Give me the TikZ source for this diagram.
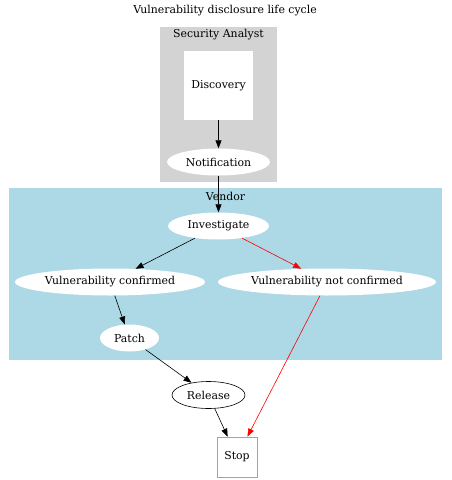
\documentclass[tikz,border=0pt]{standalone}
\usepackage{fontspec}
\setmainfont{DejaVu Serif}
\usetikzlibrary{arrows.meta,shapes.geometric}
\definecolor{clgray}{HTML}{D3D3D3}
\definecolor{clblue}{HTML}{ADD8E6}
\definecolor{salmonc}{HTML}{FA8072}
\tikzset{
  every node/.style={font=\fontsize{10.9}{12}\selectfont},
  ell/.style={ellipse, fill=white, inner sep=0pt, minimum height=27pt},
  edge/.style={draw=black, line width=0.6pt, -{Triangle[length=8pt,width=6pt]}},
  redge/.style={edge, draw=red, -{Triangle[length=8pt,width=6pt,fill=red]}},
}
\begin{document}
\begin{tikzpicture}[x=1pt,y=-1pt]
\useasboundingbox (0,0) rectangle (451,480);
\fill[white] (0,0) rectangle (451,480);
\node (title) at (225,11) {Vulnerability disclosure life cycle};
% clusters
\fill[clgray] (160,27) rectangle (277,182);
\node (sa) at (218.5,35) {Security Analyst};
\fill[clblue] (9,188) rectangle (442,360);
\node (vendor) at (225.5,196) {Vendor};
% nodes
\node[fill=white, minimum width=69pt, minimum height=69pt, inner sep=0pt] (disc) at (218.5,85.5) {Discovery};
\node[ell, minimum width=103pt] (notif) at (218.5,162) {Notification};
\node[ell, minimum width=101pt] (inv) at (218.5,226) {Investigate};
\node[ell, minimum width=190pt] (vc) at (110,282) {Vulnerability confirmed};
\node[ell, minimum width=218pt] (vnc) at (327,282) {Vulnerability not confirmed};
\node[ell, minimum width=59pt] (patch) at (129.5,338) {Patch};
\node[ellipse, draw=black, line width=0.6pt, inner sep=0pt, minimum width=73pt, minimum height=27pt] (rel) at (208.5,395) {Release};
\node[draw=salmonc, fill=white, line width=0.7pt, minimum width=40pt, minimum height=40pt, inner sep=0pt] (stop) at (237,457) {Stop};
% edges
\draw[edge] (disc) -- (notif);
\draw[edge] (notif) -- (inv);
\draw[edge] (inv) -- (vc);
\draw[redge] (inv) -- (vnc);
\draw[edge] (vc) -- (patch);
\draw[edge] (patch) -- (rel);
\draw[edge] (rel) -- (stop);
\draw[redge] (vnc) -- (stop);
\end{tikzpicture}
\end{document}
